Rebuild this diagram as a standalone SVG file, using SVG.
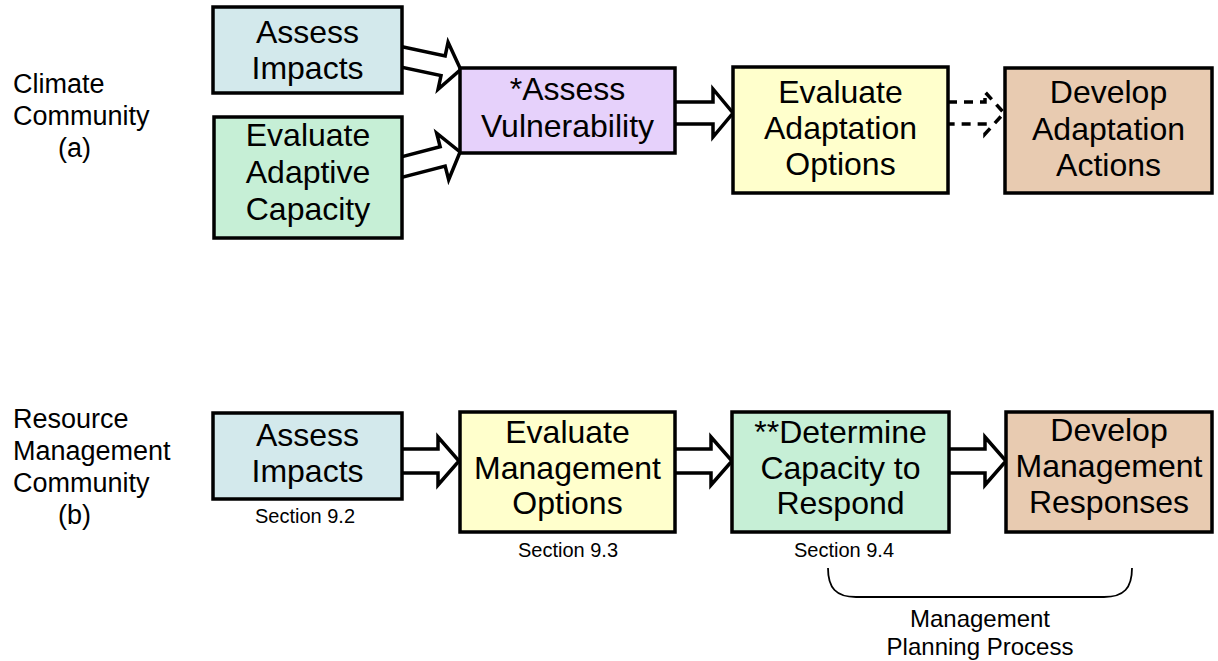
<svg xmlns="http://www.w3.org/2000/svg" width="1218" height="661" viewBox="0 0 1218 661">
<style>
.box{stroke:#000;stroke-width:3.5}
.t{font-family:"Liberation Sans",Arial,sans-serif;font-size:32px;fill:#000;text-anchor:middle}
.lbl{font-family:"Liberation Sans",Arial,sans-serif;font-size:27px;fill:#000}
.sec{font-family:"Liberation Sans",Arial,sans-serif;font-size:20px;fill:#000;text-anchor:middle}
.arr{fill:#fff;stroke:#000;stroke-width:3.5;stroke-linejoin:miter}
.blue{fill:#d3e9ec}.green{fill:#c6efd6}.purple{fill:#e6d1fb}.yellow{fill:#ffffcc}.tan{fill:#e8cbb1}
</style>
<defs>
<polygon id="ba" points="-8,-10 42,-10 42,-24 60,0 42,24 42,10 -8,10"/>
</defs>
<rect width="1218" height="661" fill="#fff"/>
<g id="labels">
<text class="lbl" x="13" y="93">Climate</text>
<text class="lbl" x="13" y="125">Community</text>
<text class="lbl" x="58" y="157">(a)</text>
<text class="lbl" x="13" y="428">Resource</text>
<text class="lbl" x="13" y="460">Management</text>
<text class="lbl" x="13" y="492">Community</text>
<text class="lbl" x="58" y="524">(b)</text>
</g>
<g id="connectors">
<use href="#ba" class="arr" transform="translate(402,57) rotate(12)"/>
<use href="#ba" class="arr" transform="translate(402,167) rotate(-14.5)"/>
<polygon class="arr" points="670,102 713,102 713,89 733,113 713,137 713,124 670,124"/>
<path d="M948,102 H985 V92 L1004,113 L985,134 V124 H948" fill="none" stroke="#000" stroke-width="3.5" stroke-dasharray="9 7"/>
<polygon class="arr" points="398,449 438,449 438,437 459,461 438,485 438,473 398,473"/>
<polygon class="arr" points="670,449 711,449 711,437 732,461 711,485 711,473 670,473"/>
<polygon class="arr" points="945,449 985,449 985,437 1006,461 985,485 985,473 945,473"/>
<path d="M828,568 C828,588 836,597 856,597 H1104 C1124,597 1132,588 1132,568" fill="none" stroke="#000" stroke-width="1.8"/>
</g>
<g id="a1"><rect class="box blue" x="213" y="7" width="189" height="86"/>
<text class="t" x="307.5" y="43">Assess</text><text class="t" x="307.5" y="79">Impacts</text></g>
<g id="a2"><rect class="box green" x="214" y="117" width="188" height="121"/>
<text class="t" x="308" y="146">Evaluate</text><text class="t" x="308" y="183">Adaptive</text><text class="t" x="308" y="220">Capacity</text></g>
<g id="a3"><rect class="box purple" x="460" y="68" width="215" height="85"/>
<text class="t" x="567.5" y="100">*Assess</text><text class="t" x="567.5" y="137">Vulnerability</text></g>
<g id="a4"><rect class="box yellow" x="733" y="67" width="215" height="126"/>
<text class="t" x="840.5" y="103">Evaluate</text><text class="t" x="840.5" y="139">Adaptation</text><text class="t" x="840.5" y="175">Options</text></g>
<g id="a5"><rect class="box tan" x="1005" y="68" width="207" height="125"/>
<text class="t" x="1108.5" y="103">Develop</text><text class="t" x="1108.5" y="140">Adaptation</text><text class="t" x="1108.5" y="176">Actions</text></g>
<g id="b1"><rect class="box blue" x="213" y="413" width="189" height="86"/>
<text class="t" x="307.5" y="446">Assess</text><text class="t" x="307.5" y="482">Impacts</text>
<text class="sec" x="305" y="523">Section 9.2</text></g>
<g id="b2"><rect class="box yellow" x="460" y="412" width="215" height="120"/>
<text class="t" x="567.5" y="443">Evaluate</text><text class="t" x="567.5" y="479">Management</text><text class="t" x="567.5" y="514">Options</text>
<text class="sec" x="568" y="557">Section 9.3</text></g>
<g id="b3"><rect class="box green" x="732" y="412" width="217" height="120"/>
<text class="t" x="840.5" y="443">**Determine</text><text class="t" x="840.5" y="479">Capacity to</text><text class="t" x="840.5" y="514">Respond</text>
<text class="sec" x="844" y="557">Section 9.4</text></g>
<g id="b4"><rect class="box tan" x="1006" y="412" width="206" height="120"/>
<text class="t" x="1109" y="441">Develop</text><text class="t" x="1109" y="477">Management</text><text class="t" x="1109" y="513">Responses</text></g>
<g id="mpp">
<text class="sec" style="font-size:24px" x="980" y="627">Management</text>
<text class="sec" style="font-size:24px" x="980" y="655">Planning Process</text>
</g>
</svg>
